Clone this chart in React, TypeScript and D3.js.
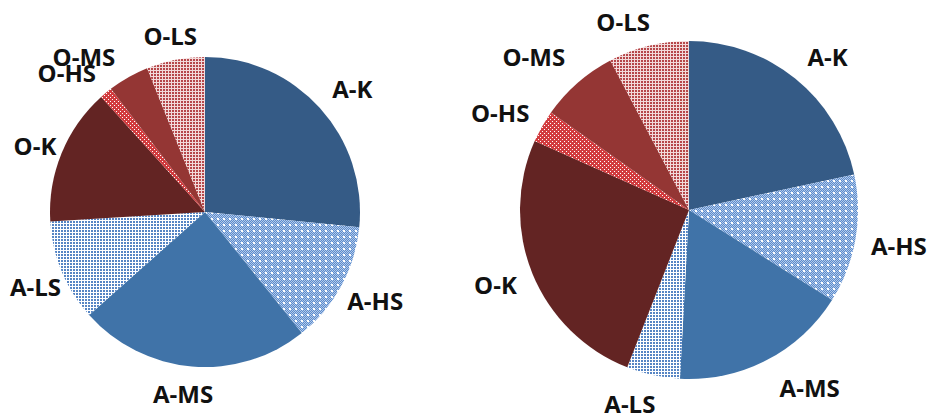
import React from "react";
import * as d3 from "d3";

// Slice order, clockwise from 12 o'clock
const categories = ["A-K", "A-HS", "A-MS", "A-LS", "O-K", "O-HS", "O-MS", "O-LS"];

// Shares (%) for the two pies
const leftValues = [26.6, 12.7, 24.2, 10.6, 14.3, 1.3, 4.3, 6.1];
const rightValues = [21.6, 12.3, 16.9, 5.1, 25.7, 3.1, 7.5, 7.7];

const fills: Record<string, string> = {
  "A-K": "#355b86",
  "A-HS": "url(#patAHS)",
  "A-MS": "#4073a8",
  "A-LS": "url(#patALS)",
  "O-K": "#632423",
  "O-HS": "url(#patOHS)",
  "O-MS": "#943634",
  "O-LS": "url(#patOLS)",
};

type PieSpec = {
  values: number[];
  cx: number;
  cy: number;
  r: number;
  labelR: number;
  nudge: Record<string, [number, number]>;
};

const pies: PieSpec[] = [
  {
    values: leftValues,
    cx: 205,
    cy: 212,
    r: 155,
    labelR: 188,
    nudge: {
      "A-K": [8, 3],
      "A-HS": [5, -1],
      "A-MS": [-6, -6],
      "A-LS": [4, 2],
      "O-K": [4, 5],
      "O-HS": [-18, 5],
      "O-MS": [-28, 8],
      "O-LS": [1, 8],
    },
  },
  {
    values: rightValues,
    cx: 689,
    cy: 210,
    r: 169,
    labelR: 208,
    nudge: {
      "A-K": [8, 8],
      "A-HS": [5, -1],
      "A-MS": [25, -7],
      "A-LS": [-15, -10],
      "O-K": [-1, -4],
      "O-HS": [-8, 5],
      "O-MS": [-18, 3],
      "O-LS": [-16, 13],
    },
  },
];

// Builds one path of 1x1 cells for a pattern tile
function cells(w: number, h: number, on: (x: number, y: number) => boolean) {
  let d = "";
  for (let y = 0; y < h; y++)
    for (let x = 0; x < w; x++) if (on(x, y)) d += `M${x} ${y}h1v1h-1z`;
  return d;
}

function Pie({ spec }: { spec: PieSpec }) {
  const data = categories.map((c, i) => ({ cat: c, value: spec.values[i] }));
  const arcs = d3
    .pie<{ cat: string; value: number }>()
    .sort(null)
    .value((d) => d.value)(data);
  const arc = d3
    .arc<d3.PieArcDatum<{ cat: string; value: number }>>()
    .innerRadius(0)
    .outerRadius(spec.r);
  return (
    <g transform={`translate(${spec.cx},${spec.cy})`}>
      {arcs.map((a) => (
        <path key={a.data.cat} d={arc(a) || ""} fill={fills[a.data.cat]} />
      ))}
      {arcs.map((a) => {
        const mid = (a.startAngle + a.endAngle) / 2;
        const n = spec.nudge[a.data.cat] || [0, 0];
        const x = Math.sin(mid) * spec.labelR + n[0];
        const y = -Math.cos(mid) * spec.labelR + n[1];
        return (
          <text
            key={"t" + a.data.cat}
            x={x}
            y={y}
            textAnchor="middle"
            dominantBaseline="central"
            fontFamily="'Open Sans', sans-serif"
            fontWeight={700}
            fontSize={24}
            fill="#111"
          >
            {a.data.cat}
          </text>
        );
      })}
    </g>
  );
}

export default function App() {
  return (
    <svg
      width={932}
      height={416}
      style={{ position: "absolute", left: 0, top: 0, background: "#fff" }}
    >
      <defs>
        <pattern id="patAHS" width={6} height={6} patternUnits="userSpaceOnUse">
          <rect width={6} height={6} fill="#b4cbeb" />
          <path
            d={cells(6, 6, (x, y) => (x + y) % 2 === 0 && !(x < 2 && y < 2))}
            fill="#5b8bcc"
            shapeRendering="crispEdges"
          />
          <path d={cells(6, 6, (x, y) => x < 2 && y < 2)} fill="#ffffff" shapeRendering="crispEdges" />
        </pattern>
        <pattern id="patALS" width={3} height={3} patternUnits="userSpaceOnUse">
          <rect width={3} height={3} fill="#ffffff" />
          <path d={cells(3, 3, (x, y) => x < 2 && y < 2)} fill="#5685c4" shapeRendering="crispEdges" />
        </pattern>
        <pattern id="patOHS" width={4} height={4} patternUnits="userSpaceOnUse">
          <rect width={4} height={4} fill="#d23c3f" />
          <path d={cells(4, 4, (x, y) => (x === 1 && y === 1) || (x === 3 && y === 3))} fill="#ffffff" shapeRendering="crispEdges" />
        </pattern>
        <pattern id="patOLS" width={3} height={3} patternUnits="userSpaceOnUse">
          <rect width={3} height={3} fill="#f2dada" />
          <path d={cells(3, 3, (x, y) => x < 2 && y < 2)} fill="#b6474a" shapeRendering="crispEdges" />
        </pattern>
      </defs>
      {pies.map((p, i) => (
        <Pie key={i} spec={p} />
      ))}
    </svg>
  );
}
